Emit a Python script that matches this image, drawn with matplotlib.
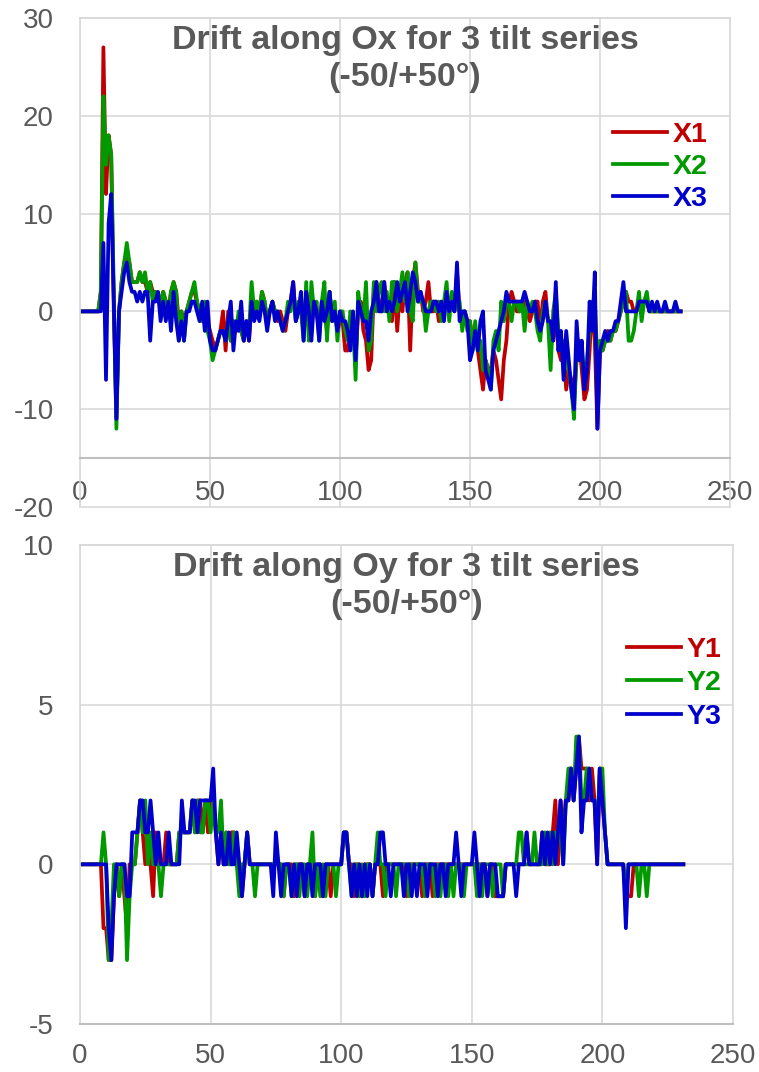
import matplotlib
matplotlib.use("Agg")
import matplotlib.pyplot as plt

plt.rcParams["font.family"] = ["Liberation Sans", "DejaVu Sans"]
plt.rcParams["axes.unicode_minus"] = False

# frame index (1..231)
frames = list(range(1, 232))

# drift along Ox, three tilt series
x1 = [0, 0, 0, 0, 0, 0, 0, 2, 27, 12,
      18, 16, 0, -11, 0, 3, 5, 6, 5, 3,
      3, 3, 4, 3, 3, 2, 3, 2, 2, 1,
      1, 2, 1, 0, 2, 3, 2, -1, 0, -1,
      0, 1, 2, 2, 1, 0, -1, 0, -1, -2,
      -3, -4, -3, -2, 0, -4, 0, -3, -1, -2,
      -1, -2, -3, -1, -3, 1, 0, 1, 0, 2,
      1, -1, 0, 1, 0, -1, 0, -1, -2, 0,
      1, 3, -1, 0, 1, -2, 2, 0, -1, 1,
      0, -2, 1, 0, -2, 2, -1, 0, -2, -1,
      -1, -4, -4, -2, -1, -5, 0, 1, -2, -3,
      -6, -5, 2, 3, 1, 0, 3, 0, 1, -1,
      3, -2, 2, 0, 3, 4, -4, 3, 5, 2,
      2, 0, 1, 3, 0, 0, 1, -1, 1, 0,
      2, 0, 1, 0, 4, 0, -1, 0, -1, -1,
      -3, -2, -4, -6, -8, -5, -6, -6, -4, -5,
      -7, -9, -5, -3, 1, 2, 1, 0, 0, 1,
      1, 0, -1, 0, 1, 1, -2, 1, 2, -1,
      -2, -3, 0, -4, -5, -4, -8, -6, -7, -9,
      -5, -3, -6, -9, -8, -4, 1, -3, -12, -4,
      -4, -3, -2, -3, -2, -2, -1, 0, 1, 2,
      1, 1, 0, 0, 1, 1, 1, 1, 0, 0,
      0, 0, 0, 0, 0, 0, 0, 0, 0, 0, 0]

x2 = [0, 0, 0, 0, 0, 0, 0, 2, 22, 15,
      18, 16, 2, -12, 0, 3, 5, 7, 5, 3,
      3, 3, 4, 3, 4, 2, 3, 1, 2, 1,
      1, 2, 1, 0, 2, 3, 2, -3, 0, -3,
      0, 1, 2, 3, 1, 0, -1, 1, -2, -3,
      -5, -4, -3, -2, -2, -3, -1, -3, -1, -2,
      0, -2, -3, -1, -2, 3, 0, 1, 0, 2,
      1, -1, 0, 1, 0, 0, -1, -2, -1, 1,
      0, 2, -1, 1, 0, -3, 3, -3, 3, 0,
      1, -3, 1, 3, -3, 2, -1, 1, -3, 0,
      0, -2, -3, 0, -1, -7, 2, 0, -1, 3,
      -4, -3, 3, 0, 2, 3, 0, 2, -1, 3,
      3, 0, 2, 4, 1, 4, 0, -1, 5, 1,
      1, 1, -2, 0, 1, 1, 0, 1, -1, 1,
      3, -1, 2, 0, 1, 1, -2, 0, -2, -1,
      -4, -1, -4, -3, -6, -5, -6, -8, -3, -2,
      -4, 1, -1, 1, 1, -1, 1, 1, 0, 1,
      -2, 1, 0, 1, 0, -2, -3, 0, 1, -1,
      -6, 0, 2, -2, -4, -3, -4, -6, -8, -11,
      -4, -5, -4, -7, -5, -2, 1, 1, -5, -3,
      -4, -3, -3, -3, -2, -2, -1, 0, 1, 2,
      -3, -3, -2, 0, 2, -1, 1, 2, 0, 0,
      0, 0, 0, 0, 0, 0, 0, 0, 0, 0, 0]

x3 = [0, 0, 0, 0, 0, 0, 0, 0, 7, -7,
      9, 12, 1, -11, 0, 2, 4, 5, 3, 2,
      2, 1, 2, 1, 2, 2, -3, 1, 1, 2,
      -1, 1, -1, 1, -2, 2, -1, -3, -1, -3,
      0, 0, 1, 1, 0, -1, 1, -2, 1, -3,
      -4, -4, -3, -2, -2, -3, -1, 1, -4, -1,
      -2, 1, -3, -1, -3, 1, -1, 0, -1, 1,
      0, -2, 0, 1, -1, 0, -1, -2, -1, 0,
      1, 3, -1, 0, 2, -3, 2, 0, -3, 1,
      0, -3, 1, -1, 0, 2, -1, 0, -2, 0,
      -1, -1, -2, -4, 0, -5, 1, 0, -1, -1,
      -3, 0, 1, 3, 0, 0, 3, 0, 1, 0,
      1, 3, 1, 2, 3, 0, 2, 4, 3, 1,
      2, 1, 0, 0, 0, 1, 1, 0, 1, -1,
      2, 0, 1, 0, 5, -1, 0, 0, -1, -5,
      -4, -2, -4, -1, 0, -6, -7, -8, -4, -3,
      -2, -1, 0, 2, 1, 1, 1, 1, 1, 1,
      2, 1, 0, 0, 1, -1, -2, -1, 1, -1,
      -1, -3, 3, -4, -2, -7, -2, -5, -8, -10,
      -1, -5, -3, -8, -6, 1, -2, 4, -12, -4,
      -3, -2, -3, -2, -2, -1, -1, 1, 3, 0,
      0, 0, 0, 0, 1, 1, 1, 1, 0, 1,
      0, 1, 0, 0, 1, 0, 0, 0, 1, 0, 0]

# drift along Oy, three tilt series
y1 = [0, 0, 0, 0, 0, 0, 0, 0, -2, -2,
      -3, -3, -1, 0, -1, 0, -1, -2, 0, 0,
      0, 1, 2, 1, 0, 1, 0, -1, 1, 0,
      0, 0, 1, 0, 0, 0, 0, 1, 1, 1,
      1, 1, 2, 1, 2, 2, 1, 2, 1, 2,
      2, 1, 0, 1, 0, 1, 0, 1, 1, 0,
      0, -1, 0, 1, 0, 0, 0, 0, 0, 0,
      0, 0, 0, 0, 0, 0, 0, -1, 0, 0,
      0, -1, 0, 0, 0, -1, 0, 0, 0, -1,
      0, 0, -1, 0, 0, -1, 0, 0, 0, 0,
      1, 1, 0, 0, -1, 0, 0, -1, 0, 0,
      0, -1, 0, 0, 0, -1, 0, 0, 0, 0,
      0, 0, 0, 0, -1, 0, 0, 0, 0, 0,
      -1, 0, 0, 0, -1, 0, 0, 0, 0, 0,
      0, 0, 0, 0, 0, 0, 0, 0, 0, 0,
      0, 0, 0, 0, 0, -1, 0, 0, -1, -1,
      -1, -1, 0, 0, 0, 0, 0, 0, 0, 0,
      1, 0, 0, 0, 0, 0, 1, 0, 0, 0,
      1, 2, 0, 2, 1, 2, 2, 3, 2, 3,
      4, 3, 3, 3, 2, 3, 2, 0, 3, 2,
      1, 0, 0, 0, 0, 0, 0, 0, -1, -1,
      -1, 0, 0, 0, 0, 0, 0, 0, 0, 0,
      0, 0, 0, 0, 0, 0, 0, 0, 0, 0, 0]

y2 = [0, 0, 0, 0, 0, 0, 0, 0, 1, 0,
      -3, -2, 0, 0, -1, 0, 0, -3, -1, 0,
      0, 1, 2, 1, 2, 0, 1, 0, 0, 0,
      -1, 0, 0, 0, 0, 0, 0, 1, 1, 1,
      1, 1, 2, 1, 2, 1, 1, 2, 2, 1,
      2, 1, 1, 2, 0, 1, 0, 0, 1, 0,
      -1, 0, 0, 1, 0, 0, -1, 0, 0, 0,
      0, 0, 0, 0, 0, 0, 0, -1, 0, 0,
      -1, 0, 0, -1, 0, 0, -1, 0, 1, -1,
      0, -1, 0, -1, 0, 0, 0, -1, 0, 0,
      1, 1, 0, -1, 0, 0, -1, 0, -1, 0,
      0, -1, 0, 1, 0, 0, -1, 0, 0, 0,
      -1, 0, 0, 0, 0, -1, 0, 0, 0, 0,
      0, -1, 0, 0, 0, -1, 0, -1, 0, 0,
      -1, 0, -1, 0, 0, 0, -1, 0, 0, 0,
      0, -1, 0, -1, 0, 0, 0, -1, 0, 0,
      0, -1, 0, 0, 0, 0, 0, 1, 1, 0,
      0, 0, 0, 1, 0, 0, 0, 1, 0, 1,
      0, 1, 1, 1, 0, 2, 3, 3, 2, 4,
      4, 2, 2, 3, 3, 2, 2, 1, 3, 3,
      1, 0, 0, 0, 0, 0, 0, 0, -1, 0,
      0, 0, 0, -1, 0, 0, -1, 0, 0, 0,
      0, 0, 0, 0, 0, 0, 0, 0, 0, 0, 0]

y3 = [0, 0, 0, 0, 0, 0, 0, 0, 0, 0,
      -2, -3, -1, 0, 0, 0, 0, -1, -1, 1,
      1, 1, 2, 2, 1, 1, 2, 1, 0, 1,
      0, 0, 0, 1, 0, 0, 0, 0, 2, 1,
      1, 1, 2, 2, 1, 2, 2, 2, 2, 2,
      3, 1, 0, 1, 0, 0, 1, 0, 0, 1,
      0, -1, 0, 1, 0, 0, 0, 0, 0, 0,
      0, 0, 0, -1, 1, 0, -1, 0, 0, 0,
      -1, 0, -1, 0, 0, -1, 0, 0, -1, 0,
      0, 0, -1, 0, 0, 0, 0, 0, 0, 0,
      1, 1, 0, -1, 0, -1, 0, -1, 0, -1,
      0, -1, 0, 0, 1, 1, 0, 0, -1, 0,
      0, 0, 0, -1, 0, 0, -1, 0, -1, 0,
      0, 0, -1, 0, 0, 0, -1, 0, 0, -1,
      0, 0, 0, 1, 0, -1, 0, 0, 0, 0,
      1, 0, -1, 0, 0, -1, 0, 0, 0, -1,
      -1, -1, 0, 0, 0, 0, -1, 0, 0, 0,
      1, 0, 0, 0, 0, 0, 1, 0, 1, 0,
      1, 0, 1, 2, 0, 2, 2, 3, 2, 3,
      4, 1, 2, 2, 3, 2, 2, 0, 3, 2,
      1, 0, 0, 0, 0, 0, 0, 0, -2, 0,
      0, 0, 0, 0, 0, 0, 0, 0, 0, 0,
      0, 0, 0, 0, 0, 0, 0, 0, 0, 0, 0]

TEXT = "#595959"
GRID = "#D9D9D9"
AXIS = "#BFBFBF"
COLORS = ["#C00000", "#009900", "#0000CC"]


def draw_panel(ax, series, labels, ylim, ystep, cross, title, leg_xy, leg_gap, xpad):
    for vals, lab, col in zip(series, labels, COLORS):
        ax.plot(frames, vals, color=col, lw=2.7, label=lab)

    ax.set_xlim(0, 250)
    ax.set_ylim(*ylim)
    ax.set_xticks(range(0, 251, 50))
    ax.set_yticks(range(ylim[0], ylim[1] + 1, ystep))
    ax.grid(True, color=GRID, lw=1.2)
    ax.set_axisbelow(True)
    for gl in ax.get_ygridlines() + ax.get_xgridlines():
        gl.set_clip_on(False)

    for side in ["left", "right", "top"]:
        ax.spines[side].set_color(GRID)
        ax.spines[side].set_linewidth(1.2)
    # category axis crosses the value axis like in the original sheet
    ax.spines["bottom"].set_position(("data", cross))
    ax.spines["bottom"].set_color(AXIS)
    ax.spines["bottom"].set_linewidth(1.5)

    ax.tick_params(axis="both", length=0, labelsize=20, labelcolor=TEXT)
    ax.tick_params(axis="y", pad=19)
    ax.tick_params(axis="x", pad=xpad)

    ax.text(0.5, 0.985, title, transform=ax.transAxes, ha="center", va="top",
            fontsize=24.5, fontweight="bold", color=TEXT, linespacing=1.25)

    ax.legend(loc="upper left", bbox_to_anchor=leg_xy, frameon=False,
              prop={"weight": "bold", "size": 20.5}, handlelength=1.9,
              handletextpad=0.2, labelspacing=leg_gap, borderpad=0,
              borderaxespad=0, labelcolor="linecolor")


fig = plt.figure(figsize=(7.59, 10.72), dpi=100)
ax_top = fig.add_axes([0.1054, 0.5271, 0.8564, 0.4561])
ax_bot = fig.add_axes([0.1054, 0.0448, 0.8603, 0.4468])

draw_panel(ax_top, [x1, x2, x3], ["X1", "X2", "X3"], (-20, 30), 10, -15,
           "Drift along Ox for 3 tilt series\n(-50/+50°)", (0.82, 0.787), 0.2, 16)
draw_panel(ax_bot, [y1, y2, y3], ["Y1", "Y2", "Y3"], (-5, 10), 5, -5,
           "Drift along Oy for 3 tilt series\n(-50/+50°)", (0.838, 0.808), 0.26, 14)

fig.savefig("out.png", dpi=100, facecolor="white")
